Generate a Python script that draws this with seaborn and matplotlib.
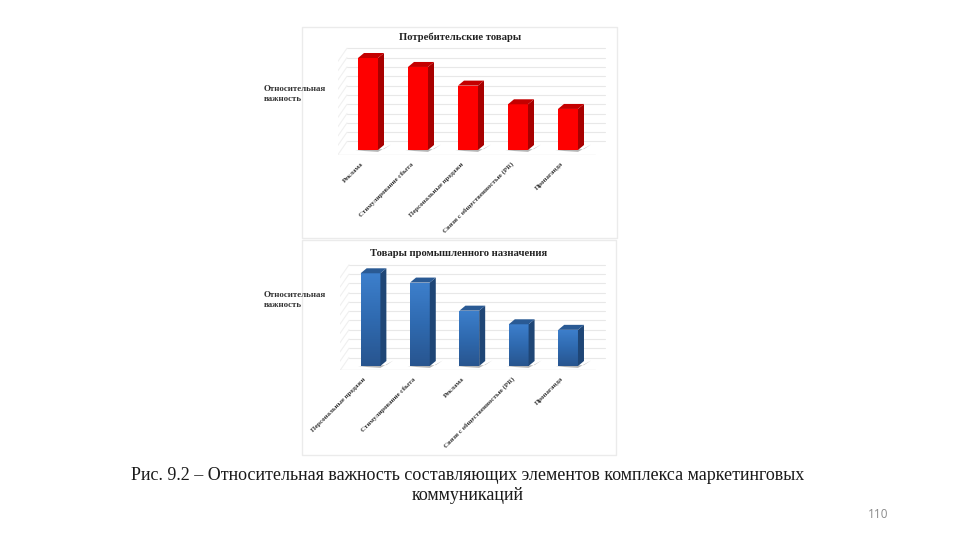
import numpy as np
import pandas as pd
import matplotlib
matplotlib.use("Agg")
import matplotlib.pyplot as plt
from matplotlib.colors import LinearSegmentedColormap
from matplotlib.patches import Polygon, Rectangle
from matplotlib.transforms import ScaledTranslation
import seaborn as sns

sns.set_theme(style="white")
plt.rcParams['font.family'] = ['Liberation Serif', 'DejaVu Serif']

W, H = 960, 540

consumer_labels = ["Реклама", "Стимулирование сбыта", "Персональные продажи",
                   "Связи с общественностью (PR)", "Пропаганда"]
consumer_values = [9.86, 8.9, 6.9, 4.9, 4.4]
industrial_labels = ["Персональные продажи", "Стимулирование сбыта", "Реклама",
                     "Связи с общественностью (PR)", "Пропаганда"]
industrial_values = [10.0, 9.0, 5.97, 4.5, 3.9]
grid_levels = list(range(0, 11))

fig = plt.figure(figsize=(W / 100, H / 100), dpi=100, facecolor="white")
bg = fig.add_axes([0, 0, 1, 1], zorder=0)
bg.set_xlim(0, W); bg.set_ylim(H, 0); bg.axis("off")


def panel(labels, values, title, title_xy, ylab_y, frame, px, face, side, top, cmap=None):
    bg.add_patch(Rectangle((frame[0], frame[1]), frame[2] - frame[0], frame[3] - frame[1],
                           fill=False, ec="#ebebeb", lw=1))
    bg.text(title_xy[0], title_xy[1], title, ha="center", va="center",
            fontsize=7.7, fontweight="bold", color="#222222")
    bg.text(264, ylab_y, "Относительная\nважность", ha="left", va="center",
            fontsize=6.4, fontweight="bold", color="#333333", linespacing=1.3)

    c0, step, y0, unit, floor_px, top_px, left_px, right_px = px
    ax = fig.add_axes([left_px / W, 1 - floor_px / H, (right_px - left_px) / W,
                       (floor_px - top_px) / H], zorder=1)
    ax.patch.set_alpha(0)
    df = pd.DataFrame({"item": labels, "value": values})
    sns.barplot(data=df, x="item", y="value", color=face, saturation=1, width=0.4, ax=ax,
                zorder=4, linewidth=0)
    xlim = ((left_px - c0) / step, (right_px - c0) / step)
    ylim = ((y0 - floor_px) / unit, (y0 - top_px) / unit)

    dx, dy = 6 / step, 5 / unit      # visual depth of the columns
    gx, gy = 9 / step, 8.5 / unit    # depth of the back wall
    for lv in grid_levels:
        ax.plot([xlim[0] + gx, xlim[1] - 0.1], [lv + gy, lv + gy], color="#e8e8e8", lw=0.8, zorder=1)
        ax.plot([xlim[0], xlim[0] + gx], [lv + gy - 1.4, lv + gy], color="#f0f0f0", lw=0.8, zorder=1)
    ax.plot([xlim[0], xlim[1] - 0.3], [ylim[0]] * 2, color="#e6e6e6", lw=1, zorder=1)

    for i, v in enumerate(values):
        l, r = i - 0.2, i + 0.2
        ax.add_patch(Polygon([[r, 0], [r + dx, dy], [r + dx, v + dy], [r, v]], fc=side, ec="none", zorder=5))
        ax.add_patch(Polygon([[l, v], [l + dx, v + dy], [r + dx, v + dy], [r, v]], fc=top, ec="none", zorder=5))
        ax.add_patch(Polygon([[l - 0.05, -0.05], [r, -0.2], [r + dx + 0.14, dy + 0.05], [r + dx, 0.1]],
                             fc="#a8a8a8", ec="none", alpha=0.85, zorder=3))

    if cmap is not None:
        grad = np.linspace(0, 1, 64).reshape(-1, 1)
        for patch, v, i in zip(ax.patches, values, range(len(values))):
            im = ax.imshow(grad, extent=(i - 0.2, i + 0.2, 0, v), origin="upper",
                           cmap=cmap, aspect="auto", zorder=4.5)
            im.set_clip_path(patch)

    ax.set_xlim(*xlim); ax.set_ylim(*ylim)
    ax.set_xlabel(""); ax.set_ylabel("")
    ax.set_yticks([])
    ax.set_xticks(range(len(labels)))
    ax.set_xticklabels(labels, rotation=45, ha="right", rotation_mode="anchor",
                       fontsize=4.95, fontweight="bold", color="#333333")
    ax.tick_params(axis="x", length=0, pad=6)
    shift = ScaledTranslation(-7 / 100, 2 / 100, fig.dpi_scale_trans)
    for t in ax.get_xticklabels():
        t.set_transform(t.get_transform() + shift)
    for s in ax.spines.values():
        s.set_visible(False)


blue = LinearSegmentedColormap.from_list("b", ["#3d7fcc", "#2f6ab0", "#28558f"])

panel(consumer_labels, consumer_values, "Потребительские товары", (460, 37), 94,
      (302, 27, 617, 238), (368, 50, 150, 9.33, 155, 40, 338, 610),
      "#fe0000", "#a80000", "#c40000")
panel(industrial_labels, industrial_values, "Товары промышленного назначения", (459, 253.5), 300,
      (302, 240, 616, 455), (370.5, 49.4, 366, 9.27, 370, 255, 340, 610),
      "#3272bd", "#1f4676", "#2a5a94", cmap=blue)

bg.text(468, 475, "Рис. 9.2 – Относительная важность составляющих элементов комплекса маркетинговых",
        ha="center", va="center", fontsize=13, color="#1a1a1a")
bg.text(468, 496, "коммуникаций", ha="center", va="center", fontsize=13, color="#1a1a1a")
bg.text(888, 514, "110", ha="right", va="center", fontsize=8.5, color="#8a8a8a", family="Open Sans")

fig.savefig("out.png", dpi=100)
